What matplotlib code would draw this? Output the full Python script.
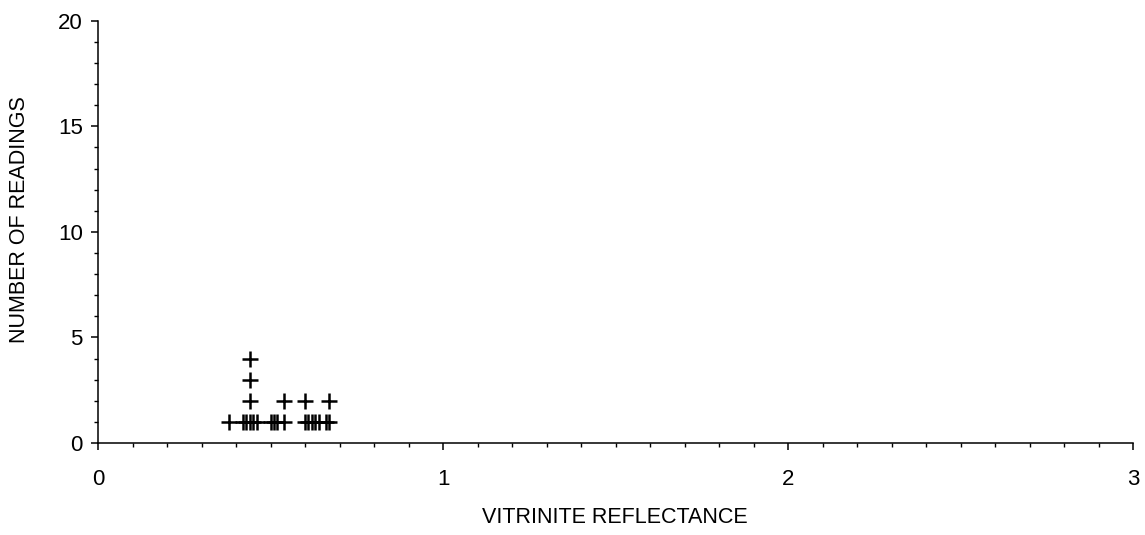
import numpy as np
import matplotlib.pyplot as plt
from matplotlib.ticker import MultipleLocator

plt.rcParams['font.family'] = ['Liberation Sans', 'DejaVu Sans']

# vitrinite reflectance values and number of readings at each value
reflectance = [0.38, 0.42, 0.43, 0.44, 0.45, 0.46, 0.50, 0.51, 0.52,
               0.54, 0.60, 0.61, 0.62, 0.63, 0.64, 0.66, 0.67]
readings    = [1, 1, 1, 4, 1, 1, 1, 1, 1,
               2, 2, 1, 1, 1, 1, 1, 2]

#
# stack one cross per reading
xs, ys = [], []
for r, n in zip(reflectance, readings):
    for k in range(1, n + 1):
        xs.append(r)
        ys.append(k)

fig = plt.figure(figsize=(11.45, 5.35), dpi=100)
ax = fig.add_axes([0.0856, 0.172, 0.904, 0.789])

ax.plot(xs, ys, ls='none', marker='+', ms=11, mew=1.8, color='black')

ax.set_xlim(0, 3)
ax.set_ylim(0, 20)
ax.xaxis.set_major_locator(MultipleLocator(1))
ax.xaxis.set_minor_locator(MultipleLocator(0.1))
ax.yaxis.set_major_locator(MultipleLocator(5))
ax.yaxis.set_minor_locator(MultipleLocator(1))

for s in ['top', 'right']:
    ax.spines[s].set_visible(False)
for s in ['left', 'bottom']:
    ax.spines[s].set_linewidth(1.1)

ax.tick_params(which='major', direction='out', length=5, width=1.1, labelsize=16)
ax.tick_params(which='minor', direction='out', length=3, width=1.0)
ax.tick_params(axis='x', which='major', pad=14)
ax.tick_params(axis='y', which='major', pad=6)

fig.text(0.017, 0.59, 'NUMBER OF READINGS', rotation=90, ha='center', va='center', fontsize=15.5)
fig.text(0.537, 0.032, 'VITRINITE REFLECTANCE', ha='center', va='center', fontsize=15.5)

fig.savefig('out.png', dpi=100)
plt.close()
